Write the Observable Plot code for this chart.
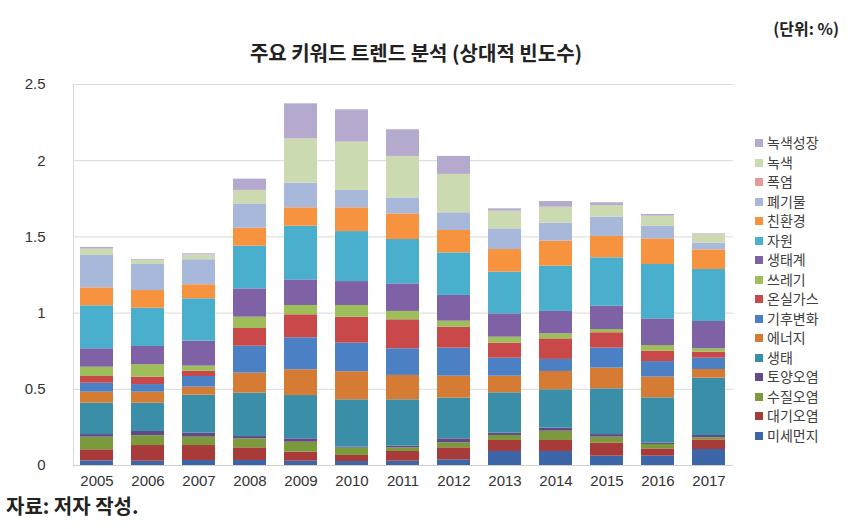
<!DOCTYPE html>
<html><head><meta charset="utf-8">
<script src="https://cdn.jsdelivr.net/npm/d3@7"></script>
<script src="https://cdn.jsdelivr.net/npm/@observablehq/plot@0.6"></script>
<style>
body{margin:0;background:#fff;font-family:"Noto Sans CJK KR","Noto Sans",sans-serif;}
#wrap{position:relative;width:853px;height:529px;overflow:hidden;}
#unit{position:absolute;right:14px;top:16px;font-size:16px;font-weight:bold;color:#222;}
#title{position:absolute;left:16px;width:800px;text-align:center;top:38px;font-size:20px;font-weight:bold;color:#222;}
#chart{position:absolute;left:0;top:60px;}
#legend{position:absolute;left:755px;top:133px;font-size:14px;color:#404040;}
#legend div{height:19.5px;line-height:19.5px;white-space:nowrap;}
#legend span{display:inline-block;width:8px;height:8px;margin-right:4px;vertical-align:middle;position:relative;top:-1px;}
#caption{position:absolute;left:6px;top:491px;font-size:20px;font-weight:bold;color:#222;}
</style></head>
<body><div id="wrap">
<div id="unit">(단위: %)</div>
<div id="title">주요 키워드 트렌드 분석 (상대적 빈도수)</div>
<div id="chart"></div>
<div id="legend"></div>
<div id="caption">자료: 저자 작성.</div>
</div>
<script>
const years = ["2005","2006","2007","2008","2009","2010","2011","2012","2013","2014","2015","2016","2017"];
// series, bottom of stack first
const seriesNames = ["미세먼지","대기오염","수질오염","토양오염","생태","에너지","기후변화","온실가스","쓰레기","생태계","자원","친환경","폐기물","폭염","녹색","녹색성장"];
const seriesColors = ["#3C66A8","#A83B39","#7A9A3C","#634A86","#3A8EA8","#D67B34","#4C80C5","#C9494A","#9DBE58","#7F62A5","#4AAFCC","#F7923F","#A8B8DA","#E69A9A","#CBDAB0","#B5A9CE"];
const pm          = [0.030,0.028,0.033,0.033,0.028,0.026,0.028,0.037,0.092,0.092,0.061,0.061,0.105];
const air         = [0.073,0.103,0.098,0.083,0.059,0.040,0.064,0.079,0.072,0.072,0.086,0.048,0.063];
const water       = [0.083,0.064,0.055,0.059,0.066,0.048,0.024,0.033,0.033,0.061,0.039,0.029,0.014];
const soil        = [0.017,0.028,0.026,0.015,0.022,0.006,0.011,0.026,0.015,0.020,0.017,0.009,0.015];
const ecology     = [0.206,0.186,0.249,0.285,0.284,0.311,0.304,0.267,0.265,0.252,0.300,0.297,0.376];
const energy      = [0.072,0.072,0.053,0.131,0.169,0.184,0.160,0.144,0.109,0.120,0.136,0.136,0.057];
const climate     = [0.059,0.050,0.070,0.177,0.210,0.188,0.175,0.184,0.118,0.079,0.131,0.102,0.074];
const ghg         = [0.044,0.049,0.035,0.116,0.151,0.170,0.190,0.138,0.099,0.135,0.101,0.068,0.040];
const trash       = [0.061,0.081,0.033,0.074,0.061,0.077,0.055,0.039,0.039,0.033,0.021,0.037,0.022];
const ecosystem   = [0.121,0.120,0.164,0.186,0.168,0.157,0.181,0.169,0.153,0.147,0.153,0.175,0.179];
const resources   = [0.282,0.251,0.278,0.280,0.352,0.328,0.291,0.279,0.274,0.297,0.318,0.357,0.341];
const ecoFriendly = [0.118,0.116,0.092,0.118,0.121,0.156,0.168,0.147,0.148,0.164,0.140,0.168,0.129];
const waste       = [0.212,0.171,0.164,0.156,0.162,0.114,0.105,0.116,0.136,0.118,0.127,0.083,0.044];
const heatwave    = [0,0,0,0,0,0,0,0,0,0,0,0,0];
const green       = [0.042,0.028,0.032,0.092,0.291,0.317,0.272,0.252,0.116,0.105,0.076,0.066,0.057];
const greenGrowth = [0.011,0.005,0.007,0.074,0.229,0.212,0.175,0.118,0.015,0.037,0.018,0.011,0.004];
const yTicks = [0,0.5,1,1.5,2,2.5];

const seriesValues = [pm,air,water,soil,ecology,energy,climate,ghg,trash,ecosystem,resources,ecoFriendly,waste,heatwave,green,greenGrowth];
const data = [];
seriesNames.forEach((s,i)=>years.forEach((y,j)=>data.push({year:y,series:s,value:seriesValues[i][j]})));

const chart = Plot.plot({
  width:853, height:435,
  marginLeft:73, marginRight:120, marginTop:24, marginBottom:30,
  style:{fontFamily:"'Liberation Sans',Arial,sans-serif",fontSize:"15px",color:"#333",background:"transparent"},
  x:{type:"band",domain:years,padding:0.35,paddingOuter:0.145,label:null,tickSize:0,tickPadding:10},
  y:{domain:[0,2.5],ticks:yTicks,tickFormat:d=>String(d),label:null,tickSize:0,tickPadding:28,grid:false},
  color:{domain:seriesNames,range:seriesColors},
  marks:[
    Plot.gridY(yTicks,{stroke:"#d9d9d9",strokeOpacity:1}),
    Plot.frame({anchor:"left",stroke:"#d9d9d9"}),
    Plot.barY(data,{x:"year",y:"value",fill:"series",order:seriesNames}),
    Plot.ruleY([0],{stroke:"#d0d0d0"})
  ]
});
document.getElementById("chart").appendChild(chart);

const lg = document.getElementById("legend");
seriesNames.slice().reverse().forEach(s=>{
  const d=document.createElement("div");
  const sw=document.createElement("span");
  sw.style.background=seriesColors[seriesNames.indexOf(s)];
  d.appendChild(sw);
  d.appendChild(document.createTextNode(s));
  lg.appendChild(d);
});
</script>
</body></html>
